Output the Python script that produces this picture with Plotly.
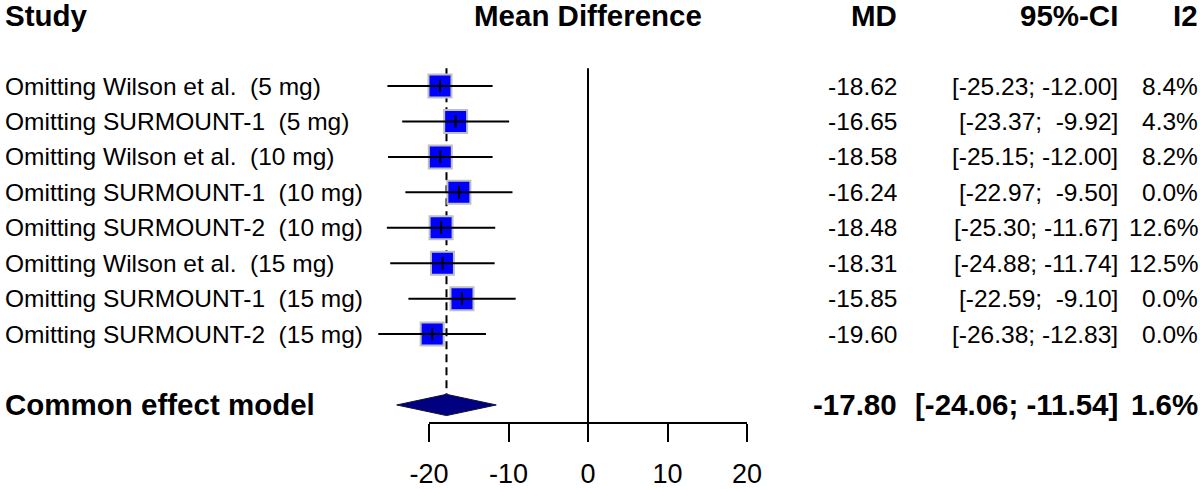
import plotly.graph_objects as go

# ---------------- data ----------------
studies = [
    "Omitting Wilson et al.  (5 mg)",
    "Omitting SURMOUNT-1  (5 mg)",
    "Omitting Wilson et al.  (10 mg)",
    "Omitting SURMOUNT-1  (10 mg)",
    "Omitting SURMOUNT-2  (10 mg)",
    "Omitting Wilson et al.  (15 mg)",
    "Omitting SURMOUNT-1  (15 mg)",
    "Omitting SURMOUNT-2  (15 mg)",
]
md = [-18.62, -16.65, -18.58, -16.24, -18.48, -18.31, -15.85, -19.60]
lower = [-25.23, -23.37, -25.15, -22.97, -25.30, -24.88, -22.59, -26.38]
upper = [-12.00, -9.92, -12.00, -9.50, -11.67, -11.74, -9.10, -12.83]
i2 = [8.4, 4.3, 8.2, 0.0, 12.6, 12.5, 0.0, 0.0]

pooled_label = "Common effect model"
pooled_md = -17.80
pooled_lower = -24.06
pooled_upper = -11.54
pooled_i2 = 1.6

headers = ["Study", "Mean Difference", "MD", "95%-CI", "I2"]
tick_vals = [-20, -10, 0, 10, 20]
tick_text = ["-20", "-10", "0", "10", "20"]

# ---------------- layout constants ----------------
W, H = 1200, 489
X_LEFT_PX, X_RIGHT_PX = 429, 747      # pixel positions of -20 and 20
ROW1_PX, ROW_STEP = 86.0, 35.44       # pixel y of first row and row spacing
AXIS_PX = 423                          # pixel y of the x axis line
FONT = "Arial, Liberation Sans, Helvetica, sans-serif"
NB = "\u00a0"

n = len(studies)
rows = list(range(1, n + 1))
pooled_row = n + 2
header_row = -1

scale = (X_RIGHT_PX - X_LEFT_PX) / (tick_vals[-1] - tick_vals[0])
zero_px = X_LEFT_PX - tick_vals[0] * scale
x_range = [-zero_px / scale, (W - zero_px) / scale]
y_top = 1 - ROW1_PX / ROW_STEP
y_bot = 1 + (H - ROW1_PX) / ROW_STEP

fig = go.Figure()

# reference line at 0 (on the tick axis)
fig.add_trace(go.Scatter(x=[0, 0], y=[0.5, pooled_row + 0.5], mode="lines",
                         line=dict(color="black", width=2), xaxis="x2", yaxis="y",
                         hoverinfo="skip"))

# dashed line at pooled estimate
dh = 0.3
fig.add_trace(go.Scatter(x=[pooled_md, pooled_md], y=[0.5, pooled_row - dh], mode="lines",
                         line=dict(color="black", width=2, dash="8px,5px"), hoverinfo="skip"))

# squares
fig.add_trace(go.Scatter(x=md, y=rows, mode="markers",
                         marker=dict(symbol="square", size=23, color="#0000FF",
                                     line=dict(color="#BFBFBF", width=2)),
                         hoverinfo="skip"))

# CI lines
cx, cy = [], []
for l, u, r in zip(lower, upper, rows):
    cx += [l, u, None]
    cy += [r, r, None]
fig.add_trace(go.Scatter(x=cx, y=cy, mode="lines", line=dict(color="black", width=2),
                         hoverinfo="skip"))

# estimate ticks
fig.add_trace(go.Scatter(x=md, y=rows, mode="markers",
                         marker=dict(symbol="line-ns", size=9,
                                     line=dict(color="black", width=2)),
                         hoverinfo="skip"))

# diamond
fig.add_trace(go.Scatter(x=[pooled_lower, pooled_md, pooled_upper, pooled_md, pooled_lower],
                         y=[pooled_row, pooled_row - dh, pooled_row, pooled_row + dh, pooled_row],
                         mode="lines", fill="toself", fillcolor="#000080",
                         line=dict(color="#111133", width=1), hoverinfo="skip"))

# ---------------- text ----------------
COL_LABEL = 3
COL_MD = 899
COL_CI = 1120
COL_I2 = 1200
anns = []


def add(text, xpx, row, anchor, size, bold=False):
    t = text.replace("  ", NB + " ")
    t = f"<b>{t}</b>" if bold else t
    anns.append(dict(text=t, x=xpx / W, xref="paper", y=row, yref="y",
                     xanchor=anchor, yanchor="middle", showarrow=False,
                     font=dict(family=FONT, size=size, color="black")))


REG, BOLD = 24.5, 29.5
add(headers[0], COL_LABEL, header_row, "left", BOLD, True)
add(headers[1], zero_px, header_row, "center", BOLD, True)
add(headers[2], COL_MD, header_row, "right", BOLD, True)
add(headers[3], COL_CI, header_row, "right", BOLD, True)
add(headers[4], COL_I2, header_row, "right", BOLD, True)


def ci_text(l, u):
    return "[" + f"{l:.2f};" + " " + f"{u:.2f}".rjust(6, NB) + "]"


for s, m, l, u, h, r in zip(studies, md, lower, upper, i2, rows):
    add(s, COL_LABEL, r, "left", REG)
    add(f"{m:.2f}", COL_MD, r, "right", REG)
    add(ci_text(l, u), COL_CI, r, "right", REG)
    add(f"{h:.1f}%", COL_I2, r, "right", REG)

add(pooled_label, COL_LABEL, pooled_row, "left", BOLD, True)
add(f"{pooled_md:.2f}", COL_MD, pooled_row, "right", BOLD, True)
add(ci_text(pooled_lower, pooled_upper), COL_CI, pooled_row, "right", BOLD, True)
add(f"{pooled_i2:.1f}%", COL_I2, pooled_row, "right", BOLD, True)

fig.update_layout(
    width=W, height=H,
    margin=dict(l=0, r=0, t=0, b=0, pad=0, autoexpand=False),
    paper_bgcolor="white", plot_bgcolor="rgba(0,0,0,0)",
    showlegend=False,
    annotations=anns,
    xaxis=dict(domain=[0, 1], range=x_range, visible=False, fixedrange=True),
    xaxis2=dict(domain=[X_LEFT_PX / W, X_RIGHT_PX / W], range=[tick_vals[0], tick_vals[-1]],
                anchor="free", position=1 - AXIS_PX / H,
                showline=True, linecolor="black", linewidth=2,
                ticks="outside", ticklen=18, tickwidth=2, tickcolor="black",
                tickvals=tick_vals, ticktext=tick_text,
                tickfont=dict(family=FONT, size=27, color="black"),
                ticklabelstandoff=9, automargin=False,
                showgrid=False, zeroline=False, fixedrange=True),
    yaxis=dict(domain=[0, 1], range=[y_bot, y_top], visible=False, fixedrange=True,
               automargin=False),
)

fig.write_html("out.html")
